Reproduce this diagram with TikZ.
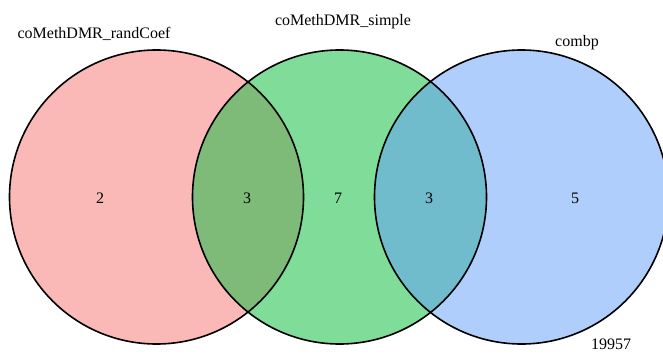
\documentclass[tikz,border=0pt]{standalone}
\usepackage{fontspec}
\setmainfont{Liberation Serif}
\definecolor{setA}{RGB}{250,185,182}
\definecolor{setB}{RGB}{128,220,153}
\definecolor{setC}{RGB}{176,206,252}
\definecolor{setAB}{RGB}{127,187,120}
\definecolor{setBC}{RGB}{112,188,204}
\tikzset{
  vtext/.style={font=\fontsize{16}{16}\selectfont, inner sep=0pt, text=black},
  rim/.style={draw=black, line width=1.6pt}
}
\begin{document}
\begin{tikzpicture}[x=1pt, y=-1pt]
\useasboundingbox (0,0) rectangle (663,353);
\clip (0,0) rectangle (663,353);
\coordinate (cA) at (156.5,197);
\coordinate (cB) at (339.5,197);
\coordinate (cC) at (521.5,197);
\def\rad{147}
% base fills
\fill[setA] (cA) circle[radius=\rad];
\fill[setB] (cB) circle[radius=\rad];
\fill[setC] (cC) circle[radius=\rad];
% pairwise overlaps
\begin{scope}
  \clip (cA) circle[radius=\rad];
  \fill[setAB] (cB) circle[radius=\rad];
\end{scope}
\begin{scope}
  \clip (cB) circle[radius=\rad];
  \fill[setBC] (cC) circle[radius=\rad];
\end{scope}
% outlines
\draw[rim] (cA) circle[radius=\rad];
\draw[rim] (cB) circle[radius=\rad];
\draw[rim] (cC) circle[radius=\rad];
% region counts
\node[vtext] (nA) at (100,198) {2};
\node[vtext] (nAB) at (247,198) {3};
\node[vtext] (nB) at (338,198) {7};
\node[vtext] (nBC) at (429,198) {3};
\node[vtext] (nC) at (575,198) {5};
% set names
\node[vtext, anchor=base] (lA) at (94,38) {coMethDMR\_randCoef};
\node[vtext, anchor=base] (lB) at (343,26) {coMethDMR\_simple};
\node[vtext, anchor=base] (lC) at (577,47) {combp};
\node[vtext, anchor=base] (lOut) at (611,349) {19957};
\end{tikzpicture}
\end{document}
